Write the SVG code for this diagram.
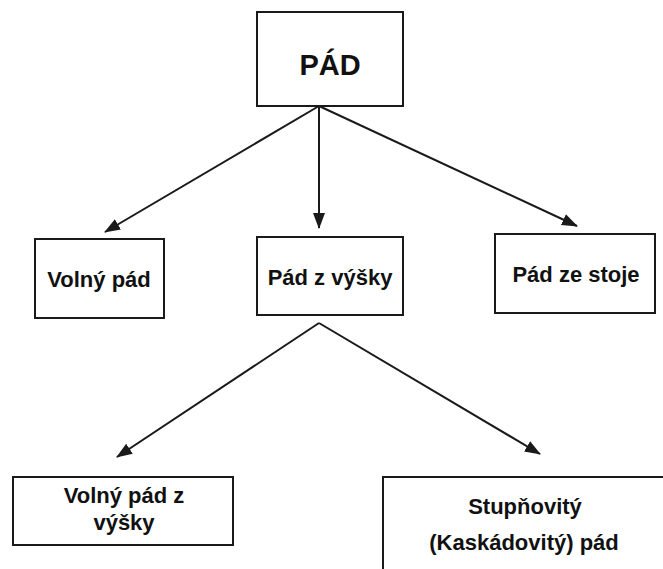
<svg xmlns="http://www.w3.org/2000/svg" width="663" height="569" viewBox="0 0 663 569">
<style>
.box{fill:#fff;stroke:#1a1a1a;stroke-width:2}
.t{font-family:"Liberation Sans",Arial,sans-serif;font-weight:bold;font-size:22px;fill:#111;text-anchor:middle}
.c{stroke:#1a1a1a;stroke-width:2;fill:none;marker-end:url(#ah)}
</style>
<defs>
<marker id="ah" markerUnits="userSpaceOnUse" markerWidth="16" markerHeight="12" refX="15" refY="6" orient="auto">
<path d="M0,0 L16,6 L0,12 Z" fill="#1a1a1a"/>
</marker>
</defs>
<rect width="663" height="569" fill="#fff"/>
<g id="connectors">
<line class="c" x1="319" y1="106" x2="105" y2="232"/>
<line class="c" x1="319" y1="106" x2="319" y2="228"/>
<line class="c" x1="319" y1="106" x2="577" y2="226"/>
<line class="c" x1="319" y1="323" x2="117" y2="457"/>
<line class="c" x1="319" y1="323" x2="540" y2="454"/>
</g>
<g id="pad">
<rect class="box" x="257" y="12" width="146" height="94"/>
<text class="t" x="330" y="75" style="font-size:29px">PÁD</text>
</g>
<g id="volny-pad">
<rect class="box" x="35" y="239" width="129" height="79"/>
<text class="t" x="99" y="287">Volný pád</text>
</g>
<g id="pad-z-vysky">
<rect class="box" x="257" y="237" width="146" height="78"/>
<text class="t" x="330" y="285">Pád z výšky</text>
</g>
<g id="pad-ze-stoje">
<rect class="box" x="495" y="234" width="160" height="79"/>
<text class="t" x="576" y="282">Pád ze stoje</text>
</g>
<g id="volny-pad-z-vysky">
<rect class="box" x="13" y="477" width="220" height="68"/>
<text class="t" x="124" y="503">Volný pád z</text>
<text class="t" x="124" y="530">výšky</text>
</g>
<g id="stupnovity">
<rect class="box" x="383" y="477" width="300" height="120"/>
<text class="t" x="525" y="514">Stupňovitý</text>
<text class="t" x="524" y="550">(Kaskádovitý) pád</text>
</g>
</svg>
